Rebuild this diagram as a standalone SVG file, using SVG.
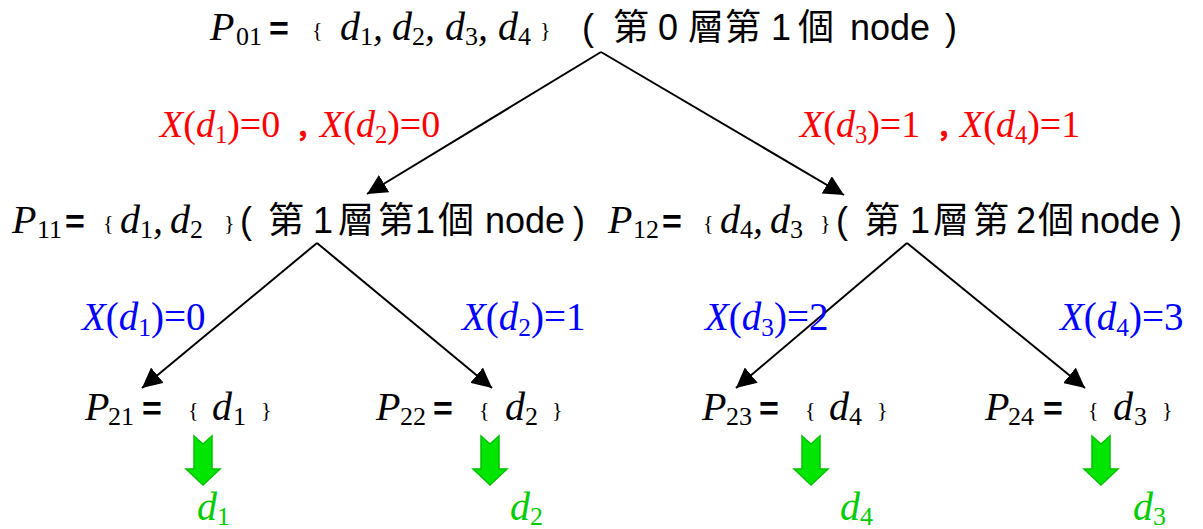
<svg xmlns="http://www.w3.org/2000/svg" width="1203" height="529" viewBox="0 0 1203 529">
<style>
text{font-family:'Liberation Serif','Times New Roman',Times,serif}
.it{font-style:italic;font-size:40px}
.sub{font-size:26px}
.eq{font-family:'Liberation Sans',Arial,sans-serif;font-size:34px;font-weight:bold}
.br{font-size:22px}
.cj{font-family:'Liberation Sans','Noto Sans CJK TC',sans-serif;font-size:36px}
.cm{font-family:'Noto Sans CJK SC',sans-serif;font-size:26px;font-weight:900}
.red{font-size:38px;fill:#ff0000}
.blue{font-size:39px;fill:#0000ff}
.grn{font-style:italic;font-size:40px;fill:#00cc00}
.gs{font-size:26px;fill:#00cc00}
.i{font-style:italic}
.s{font-size:0.65em}
.conn{stroke:#000;stroke-width:2;fill:none;marker-end:url(#ah)}
.garrow{fill:#00e600;stroke:#00c000;stroke-width:1.5}
</style>
<defs>
<marker id="ah" markerUnits="userSpaceOnUse" markerWidth="20" markerHeight="20" refX="18" refY="9" orient="auto" viewBox="0 0 18 18">
<path d="M0,0 L18,9 L0,18 Z" fill="#000"/>
</marker>
</defs>
<rect width="1203" height="529" fill="#fff"/>
<g id="connectors">
<line class="conn" x1="601" y1="52" x2="367" y2="194"/>
<line class="conn" x1="601" y1="52" x2="844" y2="195"/>
<line class="conn" x1="317" y1="243" x2="142" y2="388"/>
<line class="conn" x1="317" y1="243" x2="492" y2="388"/>
<line class="conn" x1="907" y1="243" x2="736" y2="388"/>
<line class="conn" x1="907" y1="243" x2="1085" y2="388"/>
</g>
<g id="labels">
<text class="red" y="137"><tspan x="160" class="i">X</tspan>(<tspan class="i">d</tspan><tspan class="s" dy="6">1</tspan><tspan dy="-6">)=0</tspan><tspan class="cm" x="295">，</tspan><tspan x="320" class="i">X</tspan>(<tspan class="i">d</tspan><tspan class="s" dy="6">2</tspan><tspan dy="-6">)=0</tspan></text>
<text class="red" y="137"><tspan x="800" class="i">X</tspan>(<tspan class="i">d</tspan><tspan class="s" dy="6">3</tspan><tspan dy="-6">)=1</tspan><tspan class="cm" x="936">，</tspan><tspan x="960" class="i">X</tspan>(<tspan class="i">d</tspan><tspan class="s" dy="6">4</tspan><tspan dy="-6">)=1</tspan></text>
<text class="blue" y="330"><tspan x="82" class="i">X</tspan>(<tspan class="i">d</tspan><tspan class="s" dy="6">1</tspan><tspan dy="-6">)=0</tspan></text>
<text class="blue" y="330"><tspan x="462" class="i">X</tspan>(<tspan class="i">d</tspan><tspan class="s" dy="6">2</tspan><tspan dy="-6">)=1</tspan></text>
<text class="blue" y="330"><tspan x="705" class="i">X</tspan>(<tspan class="i">d</tspan><tspan class="s" dy="6">3</tspan><tspan dy="-6">)=2</tspan></text>
<text class="blue" y="330"><tspan x="1060" class="i">X</tspan>(<tspan class="i">d</tspan><tspan class="s" dy="6">4</tspan><tspan dy="-6">)=3</tspan></text>
</g>
<g id="P01">
<text class="it" x="210" y="40">P</text><text class="sub" x="236" y="45">01</text>
<text class="eq" x="269" y="40">=</text><text class="br" x="312" y="37">{</text>
<text class="it" x="340" y="40">d</text><text class="sub" x="360" y="45">1</text><text class="it" x="373" y="40">,</text>
<text class="it" x="392" y="40">d</text><text class="sub" x="412" y="45">2</text><text class="it" x="425" y="40">,</text>
<text class="it" x="445" y="40">d</text><text class="sub" x="465" y="45">3</text><text class="it" x="478" y="40">,</text>
<text class="it" x="498" y="40">d</text><text class="sub" x="518" y="45">4</text>
<text class="br" x="540" y="37">}</text>
<text class="cj" x="582" y="40">(</text><text class="cj" x="613" y="40">第</text><text class="cj" x="658" y="40">0</text>
<text class="cj" x="688" y="40">層</text><text class="cj" x="725" y="40">第</text><text class="cj" x="771" y="40">1</text>
<text class="cj" x="798" y="40">個</text><text class="cj" x="850" y="40">node</text><text class="cj" x="945" y="40">)</text>
</g>
<g id="P11">
<text class="it" x="12" y="233">P</text><text class="sub" x="37" y="238">11</text>
<text class="eq" x="65" y="233">=</text><text class="br" x="103" y="230">{</text>
<text class="it" x="120" y="233">d</text><text class="sub" x="140" y="238">1</text><text class="it" x="153" y="233">,</text>
<text class="it" x="170" y="233">d</text><text class="sub" x="190" y="238">2</text>
<text class="br" x="224" y="230">}</text>
<text class="cj" x="240" y="233">(</text><text class="cj" x="268" y="233">第</text><text class="cj" x="313" y="233">1</text>
<text class="cj" x="338" y="233">層</text><text class="cj" x="378" y="233">第</text><text class="cj" x="415" y="233">1</text>
<text class="cj" x="438" y="233">個</text><text class="cj" x="485" y="233">node</text><text class="cj" x="573" y="233">)</text>
</g>
<g id="P12">
<text class="it" x="608" y="233">P</text><text class="sub" x="633" y="238">12</text>
<text class="eq" x="662" y="233">=</text><text class="br" x="703" y="230">{</text>
<text class="it" x="720" y="233">d</text><text class="sub" x="740" y="238">4</text><text class="it" x="753" y="233">,</text>
<text class="it" x="770" y="233">d</text><text class="sub" x="790" y="238">3</text>
<text class="br" x="820" y="230">}</text>
<text class="cj" x="836" y="233">(</text><text class="cj" x="864" y="233">第</text><text class="cj" x="910" y="233">1</text>
<text class="cj" x="933" y="233">層</text><text class="cj" x="973" y="233">第</text><text class="cj" x="1016" y="233">2</text>
<text class="cj" x="1038" y="233">個</text><text class="cj" x="1080" y="233">node</text><text class="cj" x="1170" y="233">)</text>
</g>
<g id="P21">
<text class="it" x="85" y="420">P</text><text class="sub" x="108" y="425">21</text>
<text class="eq" x="142" y="420">=</text><text class="br" x="188" y="417">{</text>
<text class="it" x="212" y="420">d</text><text class="sub" x="233" y="425">1</text><text class="br" x="261" y="417">}</text>
</g>
<g id="P22">
<text class="it" x="376" y="420">P</text><text class="sub" x="400" y="425">22</text>
<text class="eq" x="433" y="420">=</text><text class="br" x="479" y="417">{</text>
<text class="it" x="505" y="420">d</text><text class="sub" x="525" y="425">2</text><text class="br" x="552" y="417">}</text>
</g>
<g id="P23">
<text class="it" x="702" y="420">P</text><text class="sub" x="726" y="425">23</text>
<text class="eq" x="759" y="420">=</text><text class="br" x="805" y="417">{</text>
<text class="it" x="829" y="420">d</text><text class="sub" x="849" y="425">4</text><text class="br" x="877" y="417">}</text>
</g>
<g id="P24">
<text class="it" x="985" y="420">P</text><text class="sub" x="1008" y="425">24</text>
<text class="eq" x="1043" y="420">=</text><text class="br" x="1088" y="417">{</text>
<text class="it" x="1113" y="420">d</text><text class="sub" x="1134" y="425">3</text><text class="br" x="1162" y="417">}</text>
</g>
<g id="out1">
<path class="garrow" d="M194,436 L203,444 L212,436 L212,469 L220,469 L203,485 L186,469 L194,469 Z"/>
<text class="grn" x="197" y="520">d</text><text class="gs" x="217" y="525">1</text>
</g>
<g id="out2">
<path class="garrow" d="M481,436 L490,444 L499,436 L499,469 L507,469 L490,485 L473,469 L481,469 Z"/>
<text class="grn" x="510" y="520">d</text><text class="gs" x="530" y="525">2</text>
</g>
<g id="out3">
<path class="garrow" d="M802,436 L811,444 L820,436 L820,469 L828,469 L811,485 L794,469 L802,469 Z"/>
<text class="grn" x="840" y="520">d</text><text class="gs" x="860" y="525">4</text>
</g>
<g id="out4">
<path class="garrow" d="M1092,436 L1101,444 L1110,436 L1110,469 L1118,469 L1101,485 L1084,469 L1092,469 Z"/>
<text class="grn" x="1133" y="520">d</text><text class="gs" x="1153" y="525">3</text>
</g>
</svg>
